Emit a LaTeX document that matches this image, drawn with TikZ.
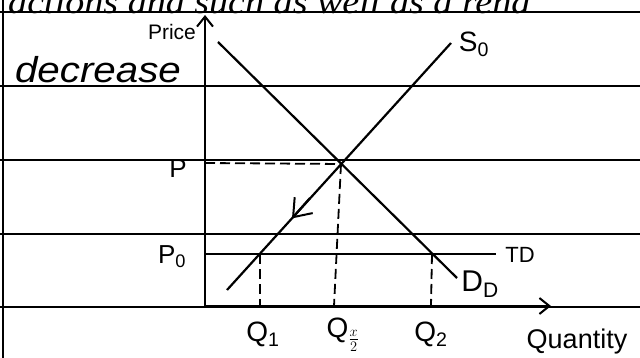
\documentclass[tikz,border=0pt]{standalone}
\usepackage{fontspec}
\setmainfont{Liberation Sans}
\newfontfamily\handserif{Liberation Serif}
\usetikzlibrary{arrows.meta}
\begin{document}
\begin{tikzpicture}[x=1pt,y=-1pt,
  ruled/.style={line width=1.6pt},
  curve/.style={line width=2.2pt},
  guide/.style={line width=1.8pt, dash pattern=on 10pt off 5pt},
  lbl/.style={inner sep=0pt, font=\fontsize{26}{28}\selectfont},
  barb/.style={-{Straight Barb[length=10pt,width=16pt,line width=2pt]}},
  bigbarb/.style={-{Straight Barb[length=16pt,width=24pt,line width=2pt]}}]
\useasboundingbox (0,0) rectangle (640,358);
\clip (0,0) rectangle (640,358);
\fill[white] (0,0) rectangle (640,358);
% lined paper
\draw[ruled] (3,0) -- (3,358);
\foreach \yy in {12,86,160,234,307} \draw[ruled] (0,\yy) -- (640,\yy);
% clipped heading text
\node[inner sep=0pt, anchor=base west, font=\handserif\itshape\fontsize{34}{36}\selectfont, xscale=1.12] (head) at (8,14) {actions and such as well as a rend};
% crossed-out word
\node[lbl, font=\itshape\fontsize{36}{38}\selectfont, xscale=1.12] (dec) at (98,70) {decrease};
% axes
\coordinate (O) at (205,306);
\coordinate (ytop) at (205,15);
\coordinate (xend) at (551,306);
\draw[curve, barb] (O) -- (ytop);
\draw[curve, barb] (O) -- (xend);
% curves
\coordinate (d1) at (218,42);
\coordinate (d2) at (457,278);
\coordinate (s1) at (227,290);
\coordinate (s2) at (451,43);
\draw[curve] (d1) -- (d2);
\draw[curve] (s1) -- (s2);
\coordinate (E) at (341,164);
\coordinate (A) at (259.6,254);
\coordinate (B) at (432,254);
% price levels
\draw[guide] (205,163) -- (E);
\coordinate (p0l) at (205,254);
\coordinate (p0r) at (496,254);
\draw[curve] (p0l) -- (p0r);
% quantity guides
\coordinate (qs) at (334,306);
\coordinate (q1) at (259.6,306);
\coordinate (q2) at (431,306);
\draw[guide] (E) -- (qs);
\draw[guide] (A) -- (q1);
\draw[guide] (B) -- (q2);
% arrow along supply
\coordinate (ar1) at (310,198);
\coordinate (ar2) at (292,218.4);
\draw[curve, bigbarb] (ar1) -- (ar2);
% labels
\node[lbl, font=\fontsize{21}{23}\selectfont] (price) at (172,32) {Price};
\node[lbl, font=\fontsize{28}{30}\selectfont] (S0) at (474,44) {S\textsubscript{0}};
\node[lbl] (P) at (178,169) {P};
\node[lbl] (P0) at (172,257) {P\textsubscript{0}};
\node[lbl, font=\fontsize{22}{24}\selectfont] (TD) at (520,255) {TD};
\node[lbl, font=\fontsize{30}{32}\selectfont] (DD) at (480,284) {D\textsubscript{D}};
\node[lbl, font=\fontsize{28}{30}\selectfont] (Q1) at (263,334) {Q\textsubscript{1}};
\node[lbl, font=\fontsize{28}{30}\selectfont] (Qs) at (343,335) {Q\textsubscript{\raisebox{-3pt}{$\frac{x}{2}$}}};
\node[lbl, font=\fontsize{28}{30}\selectfont] (Q2) at (431,334) {Q\textsubscript{2}};
\node[lbl, font=\fontsize{27}{29}\selectfont] (Q) at (577,342) {Quantity};
\end{tikzpicture}
\end{document}
